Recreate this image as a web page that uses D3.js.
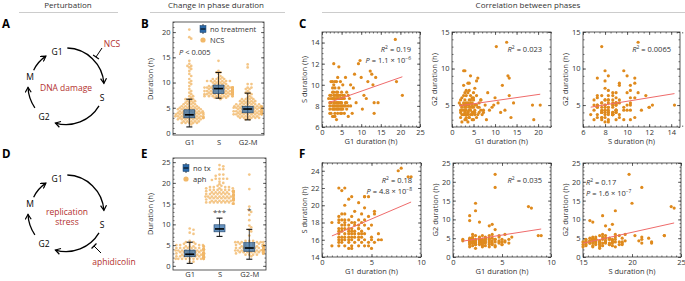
<!DOCTYPE html>
<html>
<head>
<meta charset="utf-8">
<script src="https://cdn.jsdelivr.net/npm/d3@7"></script>
<style>
  body { margin: 0; background: #fff; }
  text { font-family: "Open Sans", sans-serif; }
</style>
</head>
<body>
<svg id="viz" width="685" height="281"></svg>
<script>
// ---- data ----
const phases = ["G1", "S", "G2-M"];

// NCS-treated cells: G1, S, G2 durations (h), one entry per cell
const ncsG1 = [1.7,2.0,2.0,2.3,2.3,2.3,2.7,2.7,2.7,2.7,3.0,3.0,3.0,3.0,3.0,3.3,3.3,3.3,3.3,3.3,3.7,3.7,3.7,3.7,3.7,4.0,4.0,4.0,4.0,4.0,4.3,4.3,4.3,4.3,4.7,4.7,4.7,4.7,5.0,5.0,5.0,5.3,5.3,5.3,5.7,5.7,6.0,6.0,6.3,6.3,6.7,7.0,7.3,7.7,8.0,8.3,8.7,9.3,9.7,10.0,10.3,10.7,11.3,11.7,12.3,12.7,13.0,13.3,13.7,14.3,13.3,18.7,19.0,20.5,2.0,2.3,2.7,2.7,3.0,3.0,3.3,3.3,3.7,3.7,4.0,4.0,4.3,4.3,4.7,4.7,5.0,5.0,5.3,5.7,6.0,2.0,2.3,2.7,3.0,3.3,3.7,4.0,4.3,4.7,5.0,5.3,5.7,6.3,6.7,2.0,3.0,3.3,6.7,7.3];
const ncsS  = [8.7,8.0,7.7,8.3,7.3,9.0,7.0,8.7,9.3,10.3,7.7,8.0,8.3,9.0,12.0,7.3,8.0,8.7,9.7,10.3,7.7,8.3,6.7,9.0,8.0,7.3,8.7,9.3,10.7,8.0,11.7,7.7,8.3,9.0,7.3,8.7,10.3,8.0,7.7,9.3,8.3,8.0,9.0,10.0,7.3,8.7,8.3,10.7,9.3,7.7,8.0,8.7,10.0,7.3,9.7,11.0,8.3,12.0,12.3,10.7,7.7,9.0,8.7,10.3,11.3,11.0,10.0,8.3,10.7,8.3,7.3,14.3,10.3,9.0,9.0,8.7,8.0,7.7,8.7,9.3,7.7,9.0,8.7,9.3,7.7,9.0,8.0,8.7,9.0,7.7,8.0,8.7,7.7,9.0,8.0,8.3,10.3,9.7,10.0,7.0,10.3,8.3,9.7,8.3,7.3,8.7,8.0,8.3,9.0,7.3,7.0,8.3,7.0,8.0];
const ncsG2 = [5.3,4.3,3.3,2.7,4.7,6.0,5.0,3.7,7.7,5.3,4.0,9.7,5.7,3.0,4.7,6.3,3.3,5.0,4.3,7.0,5.3,4.0,3.7,6.7,2.7,4.7,5.7,3.3,8.0,5.0,6.3,4.3,9.0,5.3,3.7,4.7,6.0,5.0,3.0,5.7,4.0,7.3,4.3,5.0,3.3,6.3,4.7,8.7,5.3,4.0,5.7,3.7,4.3,5.0,3.0,6.7,4.3,4.7,5.0,6.0,13.0,5.3,4.0,7.7,4.3,13.6,9.0,6.3,3.3,5.3,8.7,5.0,3.0,5.0,4.0,3.7,4.3,6.3,5.0,3.7,4.7,5.3,4.0,8.0,3.3,4.3,5.7,3.7,4.0,5.3,4.7,6.7,4.0,5.0,3.7,5.7,4.3,9.7,6.7,3.0,5.0,7.0,4.7,3.0,6.0,3.7,8.3,4.7,4.3,5.0,4.3,3.7,5.7,4.0];

// aphidicolin-treated cells: G1, S, G2 durations (h)
const aphG1 = [7.7,8.0,8.7,9.0,4.3,4.3,2.3,2.3,1.7,1.7,2.7,3.7,4.0,4.3,1.7,2.0,2.3,2.7,3.0,4.3,4.7,5.3,5.3,3.7,6.0,5.7,5.0,1.0,1.0,1.7,1.7,1.7,1.7,1.7,1.7,2.0,2.0,2.0,2.0,2.0,2.3,2.3,2.3,2.3,2.3,2.3,2.7,2.7,2.7,2.7,2.7,2.7,3.0,3.0,3.0,3.0,3.0,3.0,3.3,3.3,3.3,3.3,3.3,3.7,3.7,3.7,3.7,3.7,4.0,4.0,4.0,4.0,4.3,4.3,4.3,4.3,4.7,4.7,4.7,5.0,5.0,2.0,2.3,2.7,3.0,3.3,3.7,2.7,3.0,3.3,2.3,4.0,1.7,2.0,3.0,3.7,5.3,5.7,4.7,5.0,1.7,2.0];
const aphS  = [24.0,24.3,23.3,23.3,19.7,21.0,20.0,18.3,17.0,15.7,16.0,17.3,18.0,17.7,22.0,21.7,22.0,20.7,21.0,21.0,21.0,19.3,19.0,20.3,16.0,16.7,16.3,15.3,18.0,18.7,15.3,16.0,16.7,17.3,18.0,15.7,16.3,17.0,17.7,18.3,15.3,16.0,16.7,17.3,18.0,19.0,15.7,16.3,17.0,17.7,18.3,15.0,15.3,16.0,16.7,17.3,18.7,15.0,15.7,16.3,17.0,18.0,19.3,15.3,16.0,16.7,17.7,18.3,15.7,16.3,17.0,19.0,15.3,16.0,16.7,18.3,15.7,17.3,18.7,17.7,16.0,16.0,16.3,16.7,17.0,16.7,17.3,17.3,16.3,17.7,17.7,16.7,16.3,17.3,18.0,16.3,15.7,16.0,15.3,15.0,18.3,19.0];
const aphG2 = [13.4,13.0,5.7,5.7,22.0,18.5,14.3,12.3,11.0,9.7,9.3,8.3,8.7,7.3,4.0,5.0,3.7,4.3,3.7,4.7,5.3,6.0,4.0,5.7,5.3,3.7,4.0,4.7,4.3,4.0,3.3,2.7,4.3,5.0,3.7,4.0,5.3,3.0,4.7,6.0,3.7,4.3,2.3,5.7,4.0,3.3,5.0,3.3,4.7,3.7,5.3,4.0,4.3,3.0,5.7,4.0,3.3,2.7,3.7,4.7,5.3,3.0,4.3,4.0,5.0,3.3,4.7,2.7,4.3,3.7,6.0,5.0,3.0,4.7,2.7,4.0,3.7,4.3,5.7,3.3,4.7,3.7,4.7,4.0,3.7,4.0,3.7,4.3,4.3,5.0,3.3,3.3,4.7,4.3,4.7,4.3,4.3,4.7,4.0,3.3,4.7,3.7];

// untreated box summaries per phase: whisker low, Q1, median, Q3, whisker high
const ctrlLoB  = [1.2, 6.9, 2.6];
const ctrlQ1B  = [3.0, 7.8, 4.0];
const ctrlMedB = [3.6, 8.8, 4.75];
const ctrlQ3B  = [4.6, 9.5, 5.3];
const ctrlHiB  = [6.7, 12.0, 7.9];

const ctrlLoE  = [0.6, 7.1, 1.6];
const ctrlQ1E  = [2.2, 8.2, 3.5];
const ctrlMedE = [2.8, 8.9, 4.3];
const ctrlQ3E  = [3.8, 9.9, 5.6];
const ctrlHiE  = [5.7, 11.5, 8.8];

// correlation statistics printed on the panels
const r2C = ["0.19", "0.023", "0.0065"];
const pC  = [["1.1", "\u22126"], null, null];
const r2F = ["0.18", "0.035", "0.17"];
const pF  = [["4.8", "\u22128"], null, ["1.6", "\u22127"]];

// ---- drawing ----
const svg = d3.select("#viz");
const font = "'Open Sans', sans-serif";
const ink = "#333";
const dotCol = "#df8a1d";
const fitCol = "#ef6b6b";
const boxCol = "#2b69a8";
const swarmCol = "#f1b869";
const darkRed = "#b3302e";

function txt(x, y, s, size, opts = {}) {
    return svg.append("text")
        .attr("x", x).attr("y", y)
        .attr("font-size", size)
        .attr("fill", opts.fill || ink)
        .attr("text-anchor", opts.anchor || "start")
        .attr("font-weight", opts.weight || null)
        .attr("font-family", opts.family || font)
        .text(s);
}

// headers
txt(68, 8, "Perturbation", 8, {anchor: "middle"});
txt(216, 8, "Change in phase duration", 8, {anchor: "middle"});
txt(528, 8, "Correlation between phases", 8, {anchor: "middle"});
[[19, 118], [150, 285], [322, 685]].forEach(([a, b]) => {
    svg.append("line").attr("x1", a).attr("x2", b).attr("y1", 12.5).attr("y2", 12.5)
        .attr("stroke", "#ccc").attr("stroke-width", 1);
});

// panel letters
[["A", 2, 28], ["B", 141, 28], ["C", 299, 28], ["D", 2, 158], ["E", 141, 158], ["F", 299, 158]]
    .forEach(([l, x, y]) => txt(x, y, l, 11.5, {weight: "bold", family: "Liberation Sans, Arial, sans-serif", fill: "#000"}));

// ---- cell-cycle diagrams ----
const defs = svg.append("defs");
defs.append("marker").attr("id", "arr")
    .attr("viewBox", "0 0 7 7").attr("refX", 5.5).attr("refY", 3.5)
    .attr("markerWidth", 7).attr("markerHeight", 7)
    .attr("markerUnits", "userSpaceOnUse").attr("orient", "auto")
    .append("path").attr("d", "M0.5,0.5 L5.5,3.5 L0.5,6.5")
    .attr("fill", "none").attr("stroke", "#000").attr("stroke-width", 1.2);

function cycle(cx, cy) {
    const arcs = [[38, -88, -4], [38.5, 31, 106], [38, 145, 178], [36, 206, 236]];
    arcs.forEach(([r, a0, a1]) => {
        const t0 = a0 * Math.PI / 180, t1 = a1 * Math.PI / 180;
        const p = d3.path();
        p.moveTo(cx + r * Math.cos(t0), cy + r * Math.sin(t0));
        p.arc(cx, cy, r, t0, t1, false);
        svg.append("path").attr("d", p.toString()).attr("fill", "none")
            .attr("stroke", "#000").attr("stroke-width", 1.3).attr("marker-end", "url(#arr)");
    });
    [["G1", -9, -31], ["S", 36, 15], ["G2", -22, 34], ["M", -36, -6]].forEach(([l, dx, dy]) =>
        txt(cx + dx, cy + dy, l, 8.5, {anchor: "middle", fill: "#000"}));
}
function inhibitor(x0, y0, x1, y1) {
    const dx = x1 - x0, dy = y1 - y0, L = Math.hypot(dx, dy);
    const px = -dy / L * 3.5, py = dx / L * 3.5;
    svg.append("line").attr("x1", x0).attr("y1", y0).attr("x2", x1).attr("y2", y1)
        .attr("stroke", "#000").attr("stroke-width", 1);
    svg.append("line").attr("x1", x1 - px).attr("y1", y1 - py).attr("x2", x1 + px).attr("y2", y1 + py)
        .attr("stroke", "#000").attr("stroke-width", 1.2);
}
cycle(66, 86);
txt(112, 47, "NCS", 8.5, {anchor: "middle", fill: darkRed});
inhibitor(102, 48, 96, 57);
txt(66, 91, "DNA damage", 8.5, {anchor: "middle", fill: darkRed});

cycle(66, 213);
txt(67, 215, "replication", 8.5, {anchor: "middle", fill: darkRed});
txt(67, 225, "stress", 8.5, {anchor: "middle", fill: darkRed});
inhibitor(101, 253, 94, 246);
txt(114, 265, "aphidicolin", 8.5, {anchor: "middle", fill: darkRed});

// ---- framed axes with inward ticks on all sides ----
function styleAxis(g) {
    g.select(".domain").remove();
    g.attr("font-family", font);
    g.selectAll("line").attr("stroke", ink).attr("stroke-width", 0.7);
    g.selectAll("text").attr("font-size", 7.5).attr("fill", ink);
}
function frame(x, y, xTicks, yTicks, xMinor, yMinor, band, bandPad) {
    const [x0, x1] = x.range(), [y0, y1] = y.range();
    const none = () => "";
    const put = (axis, tr) => svg.append("g").attr("transform", tr).call(axis).call(styleAxis);
    put(d3.axisLeft(y).tickValues(yTicks).tickSize(-3).tickPadding(2.5), `translate(${x0},0)`);
    put(d3.axisLeft(y).tickValues(yMinor).tickSize(-1.5).tickFormat(none), `translate(${x0},0)`);
    put(d3.axisRight(y).tickValues(yTicks).tickSize(-3).tickFormat(none), `translate(${x1},0)`);
    put(d3.axisRight(y).tickValues(yMinor).tickSize(-1.5).tickFormat(none), `translate(${x1},0)`);
    if (band) {
        put(d3.axisBottom(band).tickSize(0).tickPadding(bandPad), `translate(0,${y0})`);
    } else {
        put(d3.axisBottom(x).tickValues(xTicks).tickSize(-3).tickPadding(2.5), `translate(0,${y0})`);
        put(d3.axisBottom(x).tickValues(xMinor).tickSize(-1.5).tickFormat(none), `translate(0,${y0})`);
        put(d3.axisTop(x).tickValues(xTicks).tickSize(-3).tickFormat(none), `translate(0,${y1})`);
        put(d3.axisTop(x).tickValues(xMinor).tickSize(-1.5).tickFormat(none), `translate(0,${y1})`);
    }
    svg.append("rect").attr("x", x0).attr("y", y1).attr("width", x1 - x0).attr("height", y0 - y1)
        .attr("fill", "none").attr("stroke", ink).attr("stroke-width", 0.8);
}
function yTitle(x, yc, s) {
    svg.append("text").attr("transform", `translate(${x},${yc}) rotate(-90)`)
        .attr("text-anchor", "middle").attr("font-size", 7.5).attr("fill", ink)
        .attr("font-family", font).text(s);
}
const steps = (a, b, s) => d3.range(a, b + s / 2, s);

// ---- beeswarm + box panels ----
function swarm(values, cx, y, r, step, maxOff) {
    const pts = values.map(v => ({py: y(v)})).sort((a, b) => a.py - b.py);
    const placed = [];
    pts.forEach(p => {
        let off = 0;
        for (let k = 0; k < 60; k++) {
            off = (k % 2 ? 1 : -1) * Math.ceil(k / 2) * step;
            if (!placed.some(q => (q.px - off) ** 2 + (q.py - p.py) ** 2 < (1.7 * r) ** 2)) break;
        }
        p.px = Math.max(-maxOff, Math.min(maxOff, off));
        placed.push(p);
    });
    return placed.map(p => [cx + p.px, p.py]);
}

function boxPanel(y, xb, groups, lo, q1, med, q3, hi) {
    const xp = d3.scalePoint().domain(phases).range(xb.range()).padding(0.56);
    groups.forEach((vals, i) => {
        svg.append("g").selectAll("circle")
            .data(swarm(vals, xp(phases[i]), y, 1.35, 1.9, 14))
            .join("circle")
            .attr("cx", d => d[0]).attr("cy", d => d[1]).attr("r", 1.35)
            .attr("fill", swarmCol).attr("fill-opacity", 0.8);
    });
    phases.forEach((p, i) => {
        const cx = xp(p), w = 11;
        const g = svg.append("g");
        g.append("line").attr("x1", cx).attr("x2", cx).attr("y1", y(lo[i])).attr("y2", y(hi[i]))
            .attr("stroke", "#111").attr("stroke-width", 0.8);
        [lo[i], hi[i]].forEach(v => g.append("line").attr("x1", cx - 3).attr("x2", cx + 3)
            .attr("y1", y(v)).attr("y2", y(v)).attr("stroke", "#111").attr("stroke-width", 1.1));
        g.append("rect").attr("x", cx - w / 2).attr("width", w)
            .attr("y", y(q3[i])).attr("height", y(q1[i]) - y(q3[i]))
            .attr("fill", boxCol).attr("fill-opacity", 0.72).attr("stroke", "#1b3f66").attr("stroke-width", 0.6);
        g.append("line").attr("x1", cx - w / 2 + 1).attr("x2", cx + w / 2 - 1)
            .attr("y1", y(med[i])).attr("y2", y(med[i])).attr("stroke", "#000").attr("stroke-width", 1.6);
    });
    return xp;
}
function legend(x, y, l1, l2) {
    svg.append("line").attr("x1", x).attr("x2", x).attr("y1", y - 5).attr("y2", y + 5).attr("stroke", "#111").attr("stroke-width", 0.8);
    svg.append("rect").attr("x", x - 3).attr("y", y - 3.5).attr("width", 6).attr("height", 7)
        .attr("fill", boxCol).attr("stroke", "#1b3f66").attr("stroke-width", 0.5);
    svg.append("line").attr("x1", x - 2.5).attr("x2", x + 2.5).attr("y1", y).attr("y2", y).attr("stroke", "#000").attr("stroke-width", 1);
    txt(x + 7, y + 2.5, l1, 7.5);
    svg.append("circle").attr("cx", x).attr("cy", y + 11).attr("r", 2.6).attr("fill", swarmCol);
    txt(x + 7, y + 13.5, l2, 7.5);
}

// panel B
const yB = d3.scaleLinear().domain([-0.4, 22]).range([135, 22]);
const xB = d3.scaleBand().domain(phases).range([173, 264]);
const xpB = boxPanel(yB, xB, [ncsG1, ncsS, ncsG2], ctrlLoB, ctrlQ1B, ctrlMedB, ctrlQ3B, ctrlHiB);
frame(xB, yB, null, steps(0, 20, 5), null, steps(0, 22, 1), xpB, 4.5);
yTitle(153, 79, "Duration (h)");
legend(203, 29, "no treatment", "NCS");
svg.append("text").attr("x", 179).attr("y", 55).attr("font-size", 7.5).attr("fill", ink).attr("font-family", font)
    .call(t => { t.append("tspan").attr("font-style", "italic").text("P"); t.append("tspan").text(" < 0.005"); });

// panel E
const yE = d3.scaleLinear().domain([-1, 26]).range([270, 158]);
const xE = d3.scaleBand().domain(phases).range([173, 266]);
const xpE = boxPanel(yE, xE, [aphG1, aphS, aphG2], ctrlLoE, ctrlQ1E, ctrlMedE, ctrlQ3E, ctrlHiE);
frame(xE, yE, null, steps(0, 25, 5), null, steps(0, 26, 1), xpE, 1.5);
yTitle(153, 214, "Duration (h)");
legend(186, 168, "no tx", "aph");
txt(xpE("S"), yE(12.2), "***", 8, {anchor: "middle", fill: "#444"});
txt(xpE("G2-M"), yE(12.8), "*", 8, {anchor: "middle", fill: "#444"});

// ---- scatter panels ----
function statText(xa, y, r2, p, anchor) {
    const t1 = svg.append("text").attr("x", xa).attr("y", y).attr("text-anchor", anchor)
        .attr("font-size", 7.5).attr("fill", ink).attr("font-family", font);
    t1.append("tspan").attr("font-style", "italic").text("R");
    t1.append("tspan").attr("font-size", 5).attr("dy", -3).text("2");
    t1.append("tspan").attr("dy", 3).text(" = " + r2);
    if (p) {
        const t2 = svg.append("text").attr("x", xa).attr("y", y + 11).attr("text-anchor", anchor)
            .attr("font-size", 7.5).attr("fill", ink).attr("font-family", font);
        t2.append("tspan").attr("font-style", "italic").text("P");
        t2.append("tspan").text(" = " + p[0] + " \u00d7 10");
        t2.append("tspan").attr("font-size", 5).attr("dy", -3).text(p[1]);
    }
}
function scatter(xs, ys, x, y, xT, yT, xm, ym, xl, yl, r2, p, statPos) {
    frame(x, y, xT, yT, xm, ym);
    svg.append("g").selectAll("circle").data(d3.zip(xs, ys)).join("circle")
        .attr("cx", d => x(d[0])).attr("cy", d => y(d[1])).attr("r", 1.6).attr("fill", dotCol);
    const mx = d3.mean(xs), my = d3.mean(ys);
    const b = d3.sum(xs, (v, i) => (v - mx) * (ys[i] - my)) / d3.sum(xs, v => (v - mx) ** 2);
    const a = my - b * mx;
    const [lo, hi] = d3.extent(xs);
    svg.append("line").attr("x1", x(lo)).attr("y1", y(a + b * lo)).attr("x2", x(hi)).attr("y2", y(a + b * hi))
        .attr("stroke", fitCol).attr("stroke-width", 1);
    const [x0, x1] = x.range(), [y0, y1] = y.range();
    txt((x0 + x1) / 2, y0 + 17, xl, 7.5, {anchor: "middle"});
    yTitle(x0 - 15, (y0 + y1) / 2, yl);
    if (statPos === "left") statText(x0 + 3, y1 + 22, r2, p, "start");
    else statText(x1 - 9, y1 + 20, r2, p, "end");
}

const topC = 32, botC = 127, topF = 163, botF = 257;
scatter(ncsG1, ncsS,
    d3.scaleLinear().domain([0, 25]).range([322, 420]), d3.scaleLinear().domain([6, 15]).range([botC, topC]),
    steps(0, 25, 5), steps(6, 14, 2), steps(0, 25, 1), steps(6, 15, 0.5),
    "G1 duration (h)", "S duration (h)", r2C[0], pC[0]);
scatter(ncsG1, ncsG2,
    d3.scaleLinear().domain([0, 23]).range([452, 551]), d3.scaleLinear().domain([2, 15]).range([botC, topC]),
    steps(0, 20, 5), steps(5, 15, 5), steps(0, 23, 1), steps(2, 15, 1),
    "G1 duration (h)", "G2 duration (h)", r2C[1], pC[1]);
scatter(ncsS, ncsG2,
    d3.scaleLinear().domain([6, 14.8]).range([583, 680]), d3.scaleLinear().domain([2, 15]).range([botC, topC]),
    steps(6, 14, 2), steps(5, 15, 5), steps(6, 14.8, 0.5), steps(2, 15, 1),
    "S duration (h)", "G2 duration (h)", r2C[2], pC[2]);

scatter(aphG1, aphS,
    d3.scaleLinear().domain([0, 10]).range([322, 421]), d3.scaleLinear().domain([14, 24.9]).range([botF, topF]),
    steps(0, 10, 5), steps(14, 24, 2), steps(0, 10, 0.5), steps(14, 24.9, 0.5),
    "G1 duration (h)", "S duration (h)", r2F[0], pF[0]);
scatter(aphG1, aphG2,
    d3.scaleLinear().domain([0, 10]).range([453, 551]), d3.scaleLinear().domain([0, 25]).range([botF, topF]),
    steps(0, 10, 5), steps(0, 25, 5), steps(0, 10, 0.5), steps(0, 25, 1),
    "G1 duration (h)", "G2 duration (h)", r2F[1], pF[1]);
scatter(aphS, aphG2,
    d3.scaleLinear().domain([15, 25]).range([583, 681]), d3.scaleLinear().domain([0, 25]).range([botF, topF]),
    steps(15, 25, 5), steps(0, 25, 5), steps(15, 25, 0.5), steps(0, 25, 1),
    "S duration (h)", "G2 duration (h)", r2F[2], pF[2], "left");
</script>
</body>
</html>
